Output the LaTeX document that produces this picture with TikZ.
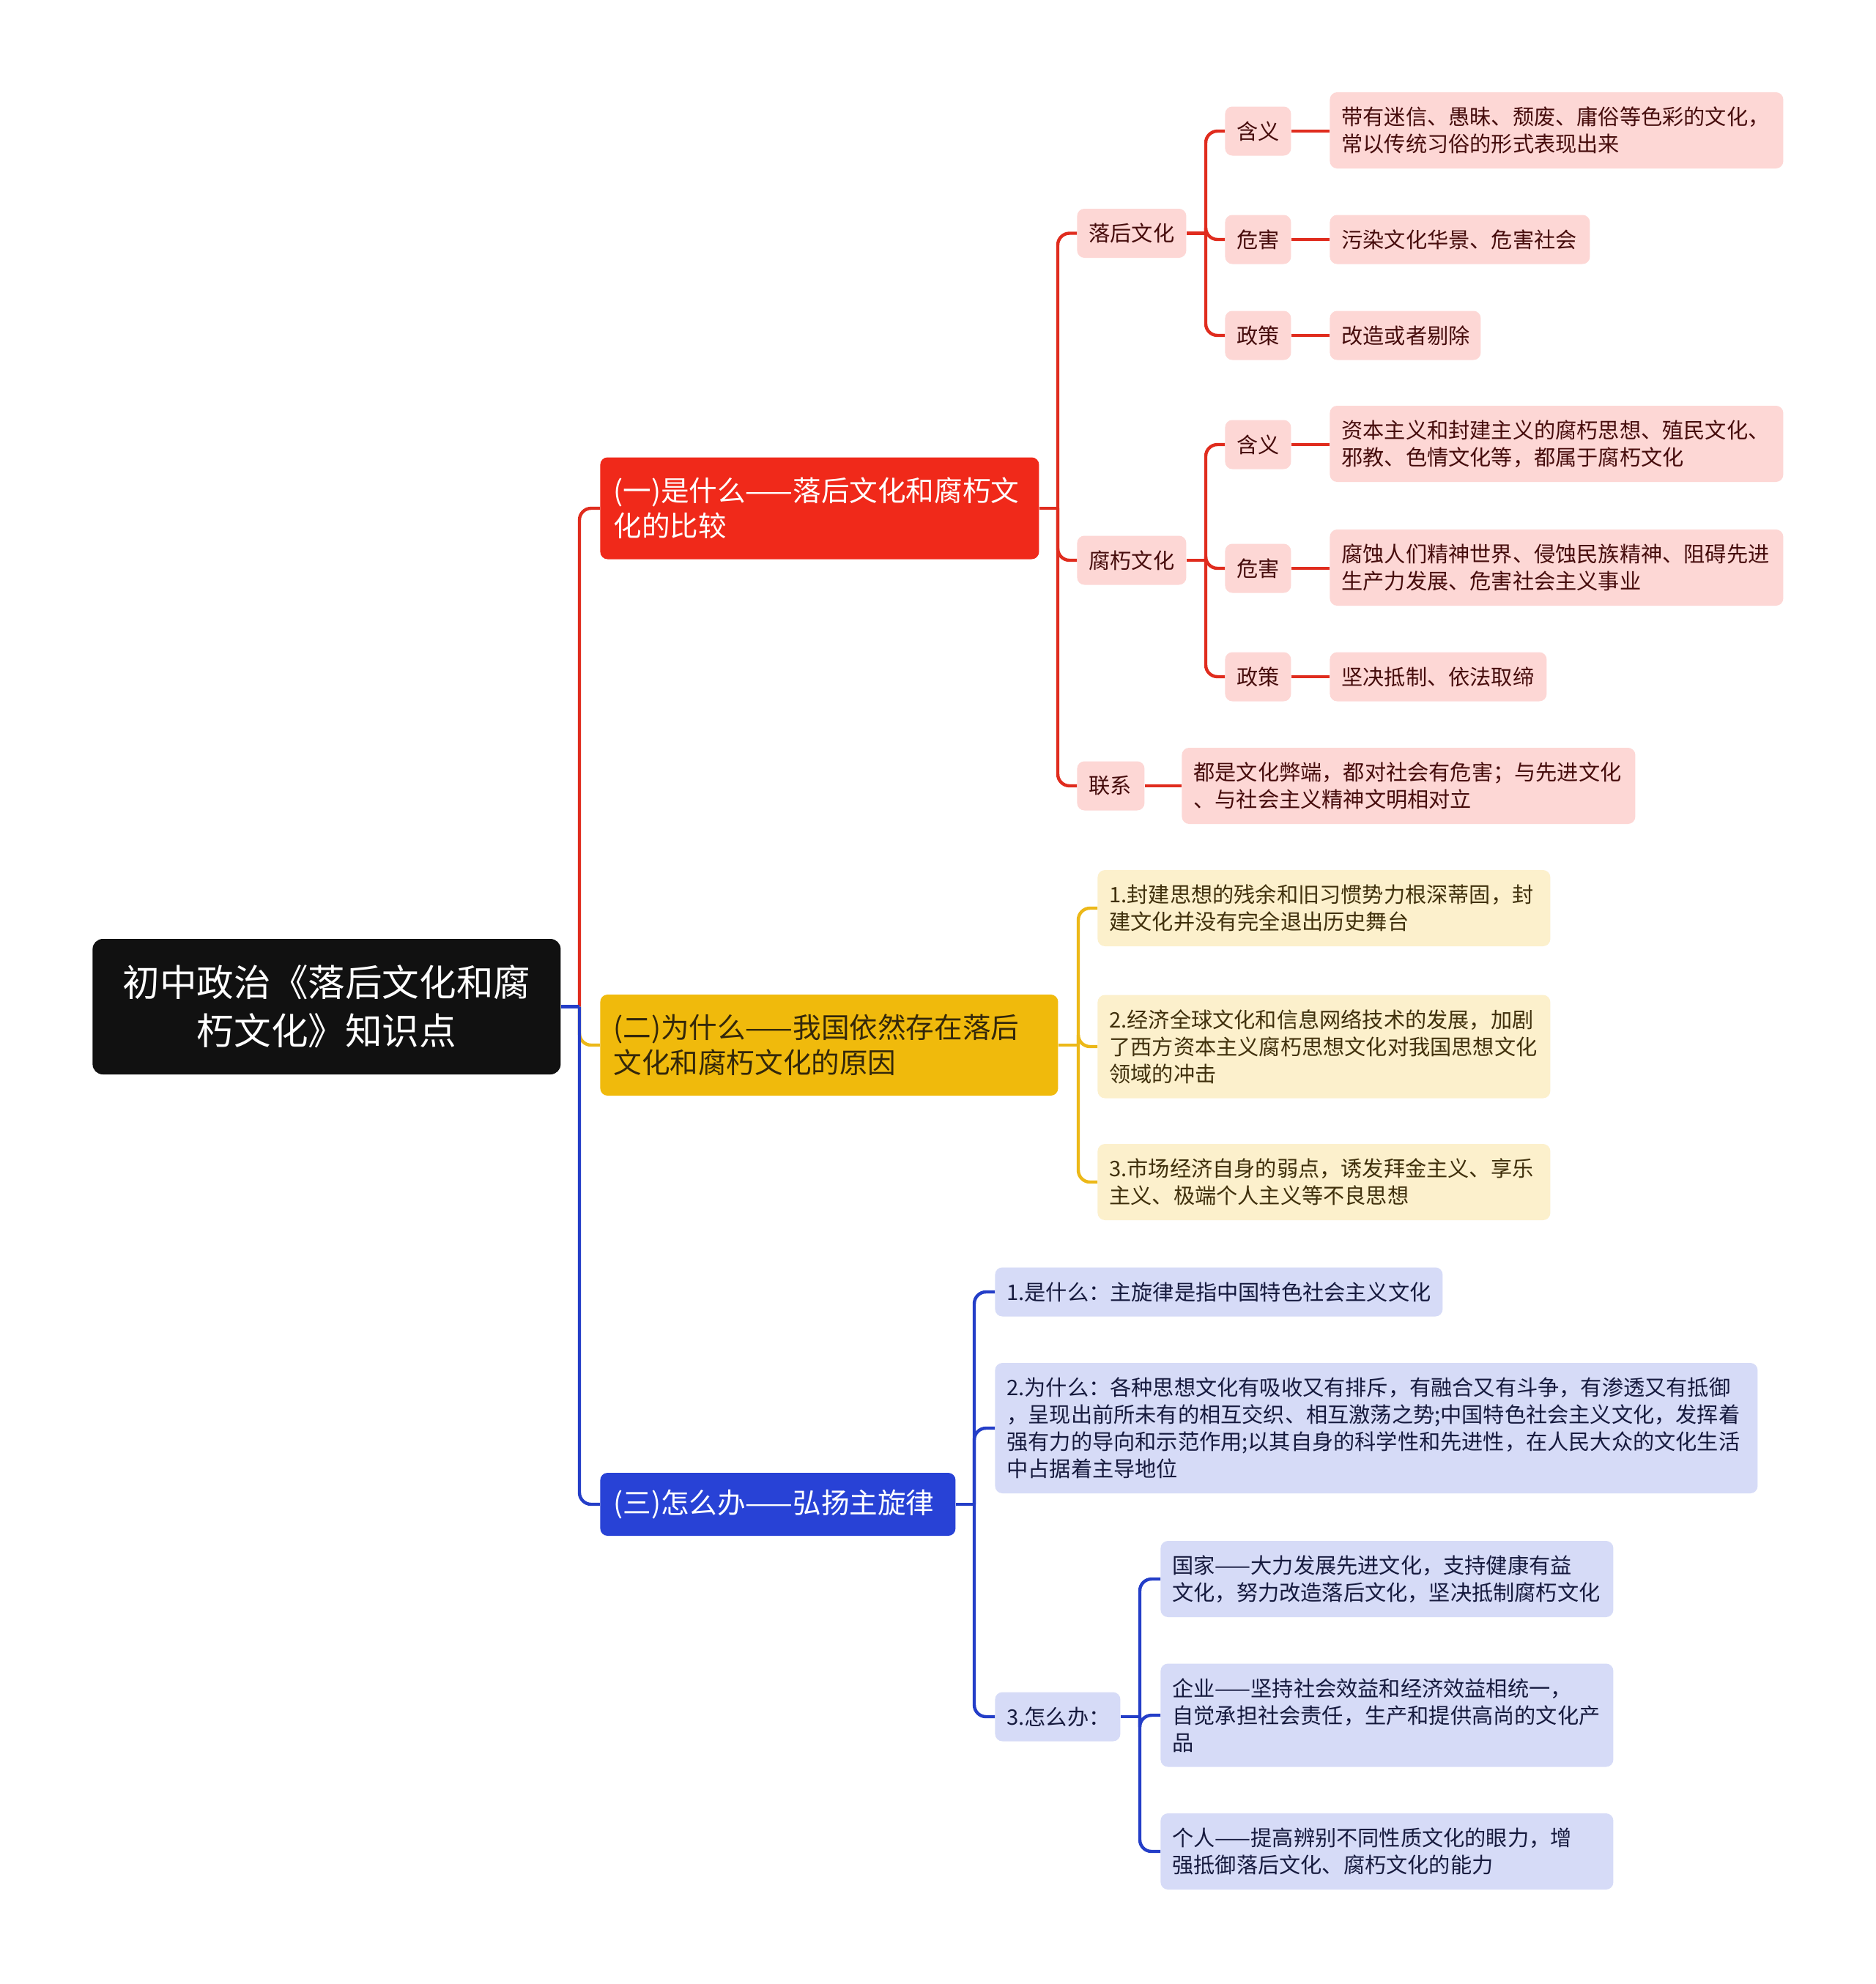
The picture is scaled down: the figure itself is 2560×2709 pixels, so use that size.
\documentclass[tikz,border=0pt]{standalone}
\usepackage{fontspec}
\setmainfont{Noto Sans CJK SC}
\usepackage{xcolor}
\definecolor{rootblack}{RGB}{17,17,17}
\definecolor{catred}{RGB}{240,41,26}
\definecolor{linered}{RGB}{224,44,30}
\definecolor{pinkfill}{RGB}{253,215,213}
\definecolor{pinktext}{RGB}{70,12,12}
\definecolor{catyellow}{RGB}{240,186,12}
\definecolor{lineyellow}{RGB}{236,184,24}
\definecolor{creamfill}{RGB}{252,240,204}
\definecolor{creamtext}{RGB}{64,48,12}
\definecolor{catblue}{RGB}{40,66,214}
\definecolor{lineblue}{RGB}{36,62,200}
\definecolor{lilacfill}{RGB}{214,219,247}
\definecolor{lilactext}{RGB}{22,26,62}

\tikzset{
  topicbox/.style={fill=rootblack, text=white, rounded corners=7pt, anchor=west, align=center,
    text width=#1, inner xsep=8pt, minimum height=92.5pt, font=\fontsize{25.3pt}{33pt}\selectfont},
  catbox/.style={rounded corners=5pt, anchor=west, align=left, text width=#1,
    inner xsep=9pt, inner ysep=2pt, font=\fontsize{19.3pt}{24pt}\selectfont},
  subbox/.style={rounded corners=5pt, anchor=west, align=left, text width=#1,
    inner xsep=8pt, inner ysep=2pt, font=\fontsize{14.6pt}{18.5pt}\selectfont},
  pinkbox/.style={subbox=#1, fill=pinkfill, text=pinktext},
  creambox/.style={subbox=#1, fill=creamfill, text=creamtext},
  lilacbox/.style={subbox=#1, fill=lilacfill, text=lilactext},
  one/.style={minimum height=33.5pt},
  two/.style={minimum height=52pt},
  three/.style={minimum height=70.5pt},
  four/.style={minimum height=89pt},
  redline/.style={draw=linered, line width=2.2pt, rounded corners=8pt},
  yellowline/.style={draw=lineyellow, line width=2.2pt, rounded corners=8pt},
  blueline/.style={draw=lineblue, line width=2.2pt, rounded corners=8pt}
}

\begin{document}
\begin{tikzpicture}[x=0.5pt, y=-0.5pt]
    % canvas
    \fill[white] (0,0) rectangle (2560,2709);
    \useasboundingbox (0,0) rectangle (2560,2709);

    % Central topic
    \node[topicbox=303.5pt] (NRoot) at (126,1374.5) {初中政治《落后文化和腐\\朽文化》知识点};

    % Three main branches
    \node[catbox=281.5pt, fill=catred, text=white, minimum height=69.5pt] (NWhat) at (819,694)
        {\mbox{(一)是什么——落后文化和腐朽文}\\化的比较};
    \node[catbox=294.5pt, fill=catyellow, text=creamtext!80!black, minimum height=69pt] (NWhy) at (819,1427)
        {\mbox{(二)为什么——我国依然存在落后}\\文化和腐朽文化的原因};
    \node[catbox=224.5pt, fill=catblue, text=white, minimum height=43pt] (NHow) at (819,2054)
        {\mbox{(三)怎么办——弘扬主旋律}};

    % (一) sub topics
    \node[pinkbox=58.5pt, one] (NBack) at (1470,318.5) {落后文化};
    \node[pinkbox=58.5pt, one] (NDecay) at (1470,765) {腐朽文化};
    \node[pinkbox=30pt, one] (NLink) at (1470,1073) {联系};

    \node[pinkbox=29pt, one] (NBMean) at (1672,179) {含义};
    \node[pinkbox=29pt, one] (NBHarm) at (1672,327) {危害};
    \node[pinkbox=29pt, one] (NBPolicy) at (1672,458) {政策};
    \node[pinkbox=29pt, one] (NDMean) at (1672,607) {含义};
    \node[pinkbox=29pt, one] (NDHarm) at (1672,776) {危害};
    \node[pinkbox=29pt, one] (NDPolicy) at (1672,924) {政策};

    \node[pinkbox=293.5pt, two] (LBMean) at (1815,178)
        {带有迷信、愚昧、颓废、庸俗等色彩的文化，\\常以传统习俗的形式表现出来};
    \node[pinkbox=161.5pt, one] (LBHarm) at (1815,327) {污染文化华景、危害社会};
    \node[pinkbox=87pt, one] (LBPolicy) at (1815,458) {改造或者剔除};
    \node[pinkbox=293.5pt, two] (LDMean) at (1815,606)
        {资本主义和封建主义的腐朽思想、殖民文化、\\邪教、色情文化等，都属于腐朽文化};
    \node[pinkbox=293.5pt, two] (LDHarm) at (1815,775)
        {腐蚀人们精神世界、侵蚀民族精神、阻碍先进\\生产力发展、危害社会主义事业};
    \node[pinkbox=132pt, one] (LDPolicy) at (1815,924) {坚决抵制、依法取缔};
    \node[pinkbox=293.5pt, two] (LLink) at (1613,1073)
        {都是文化弊端，都对社会有危害；与先进文化\\、与社会主义精神文明相对立};

    % (二) reasons
    \node[creambox=293pt, two] (LWhy1) at (1498,1240)
        {1.封建思想的残余和旧习惯势力根深蒂固，封\\建文化并没有完全退出历史舞台};
    \node[creambox=293pt, three] (LWhy2) at (1498,1429)
        {2.经济全球文化和信息网络技术的发展，加剧\\了西方资本主义腐朽思想文化对我国思想文化\\领域的冲击};
    \node[creambox=293pt, two] (LWhy3) at (1498,1614)
        {3.市场经济自身的弱点，诱发拜金主义、享乐\\主义、极端个人主义等不良思想};

    % (三) main melody
    \node[lilacbox=289.5pt, one] (LHow1) at (1358,1764) {1.是什么：主旋律是指中国特色社会主义文化};
    \node[lilacbox=504.5pt, four] (LHow2) at (1358,1950)
        {2.为什么：各种思想文化有吸收又有排斥，有融合又有斗争，有渗透又有抵御\\，呈现出前所未有的相互交织、相互激荡之势;中国特色社会主义文化，发挥着\\强有力的导向和示范作用;以其自身的科学性和先进性，在人民大众的文化生活\\中占据着主导地位};
    \node[lilacbox=69.5pt, one] (LHow3) at (1358,2344) {3.怎么办：};

    \node[lilacbox=293pt, two] (LState) at (1584,2156)
        {国家——大力发展先进文化，支持健康有益\\文化，努力改造落后文化，坚决抵制腐朽文化};
    \node[lilacbox=293pt, three] (LFirm) at (1584,2342)
        {企业——坚持社会效益和经济效益相统一，\\自觉承担社会责任，生产和提供高尚的文化产\\品};
    \node[lilacbox=293pt, two] (LPerson) at (1584,2528)
        {个人——提高辨别不同性质文化的眼力，增\\强抵御落后文化、腐朽文化的能力};

    % Junctions
    \coordinate (JRoot) at (791,1374.5);
    \coordinate (JWhat) at (1444,694);
    \coordinate (JBack) at (1646,318.5);
    \coordinate (JDecay) at (1646,765);
    \coordinate (JWhy) at (1472,1427);
    \coordinate (JHow) at (1330,2054);
    \coordinate (JHow3) at (1556,2344);

    % Red connectors
    \draw[redline] (NRoot.east) -- (JRoot);
    \draw[redline] (JRoot) |- (NWhat.west);
    \draw[redline] (NWhat.east) -- (JWhat);
    \foreach \c in {NBack,NDecay,NLink} \draw[redline] (JWhat) |- (\c.west);
    \draw[redline] (NBack.east) -- (JBack);
    \foreach \c in {NBMean,NBHarm,NBPolicy} \draw[redline] (JBack) |- (\c.west);
    \draw[redline] (NDecay.east) -- (JDecay);
    \foreach \c in {NDMean,NDHarm,NDPolicy} \draw[redline] (JDecay) |- (\c.west);
    \foreach \a/\b in {NBMean/LBMean,NBHarm/LBHarm,NBPolicy/LBPolicy,NDMean/LDMean,NDHarm/LDHarm,NDPolicy/LDPolicy,NLink/LLink}
        \draw[redline] (\a.east) -- (\a.east -| \b.west);

    % Yellow connectors
    \draw[yellowline] (JRoot) |- (NWhy.west);
    \draw[yellowline] (NWhy.east) -- (JWhy);
    \foreach \c in {LWhy1,LWhy2,LWhy3} \draw[yellowline] (JWhy) |- (\c.west);

    % Blue connectors
    \draw[blueline] (NRoot.east) -- (JRoot);
    \draw[blueline] (JRoot) |- (NHow.west);
    \draw[blueline] (NHow.east) -- (JHow);
    \foreach \c in {LHow1,LHow2,LHow3} \draw[blueline] (JHow) |- (\c.west);
    \draw[blueline] (LHow3.east) -- (JHow3);
    \foreach \c in {LState,LFirm,LPerson} \draw[blueline] (JHow3) |- (\c.west);
\end{tikzpicture}
\end{document}
